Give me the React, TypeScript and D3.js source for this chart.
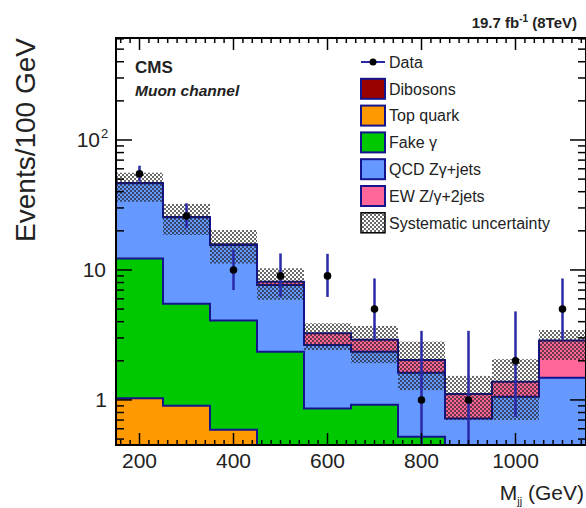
import React from 'react';
import * as d3 from 'd3';

// ---- data ----
const binEdges = [150, 250, 350, 450, 550, 650, 750, 850, 950, 1050, 1150];
const binCenters = [200, 300, 400, 500, 600, 700, 800, 900, 1000, 1100];
const dibosons = [0.03, 0.03, 0.02, 0.02, 0.02, 0.02, 0.02, 0.01, 0.01, 0.01];
const topQuark = [1.0, 0.87, 0.57, 0.3, 0.1, 0.1, 0.05, 0.04, 0.02, 0.02];
const fakeGamma = [11.2, 4.6, 3.5, 2.03, 0.74, 0.8, 0.45, 0.1, 0.07, 0.05];
const qcdZg = [34.2, 19.9, 11.5, 5.32, 1.79, 1.43, 1.1, 0.57, 0.96, 1.4];
const ewZg = [0.2, 0.2, 0.2, 0.43, 0.61, 0.55, 0.41, 0.39, 0.32, 1.38];
const sysUp = [56, 32.2, 20.3, 10.3, 3.89, 3.71, 2.81, 1.53, 2.06, 3.45];
const sysDown = [33.5, 18.6, 11.2, 5.9, 2.42, 1.92, 1.19, 0.7, 0.7, 2.03];
const dataVals = [55, 26, 10, 9, 9, 5, 1, 1, 2, 5];
const dataHi = [63.4, 32.6, 14.3, 13.4, 13.3, 8.6, 3.4, 3.4, 4.8, 8.6];
const dataLo = [47.8, 20.9, 7.0, 6.2, 6.2, 2.9, 0.01, 0.01, 0.74, 2.93];
const xTickLabels = [200, 400, 600, 800, 1000];
const yTickLabels = [1, 10, 100];

const seriesNames = ['Dibosons', 'Top quark', 'Fake γ', 'QCD Zγ+jets', 'EW Z/γ+2jets'];
const seriesColors = ['#990000', '#ff9900', '#00c800', '#6699ff', '#ff6699'];
const seriesVals = [dibosons, topQuark, fakeGamma, qcdZg, ewZg];

const W = 586, H = 508;
const L = 116, R = 586, T = 38, B = 445;
const NAVY = '#14148c';

export default function App() {
  const x = d3.scaleLinear().domain([150, 1150]).range([L, R]);
  const y = d3.scaleLog().domain([0.45, 609]).range([B, T]);
  const yc = (v: number) => (v <= 0.45 ? B + 10 : y(v));

  // cumulative stacks
  const cums: number[][] = [];
  seriesVals.forEach((s, i) => {
    cums.push(s.map((v, j) => v + (i > 0 ? cums[i - 1][j] : 0)));
  });

  const stepArea = (vals: number[]) => {
    let p = `M${x(binEdges[0])},${B + 10}`;
    vals.forEach((v, j) => {
      p += `L${x(binEdges[j])},${yc(v)}L${x(binEdges[j + 1])},${yc(v)}`;
    });
    p += `L${x(binEdges[binEdges.length - 1])},${B + 10}Z`;
    return p;
  };

  const minorX = d3.range(160, 1150, 20);
  const majorX = xTickLabels;
  const minorY: number[] = [];
  [0.1, 1, 10, 100].forEach((d) => {
    for (let k = 2; k <= 9; k++) {
      const v = d * k;
      if (v >= 0.45 && v <= 609) minorY.push(v);
    }
  });

  const legendRows = [
    { name: 'Data', type: 'data' },
    ...seriesNames.map((n, i) => ({ name: n, type: 'box', color: seriesColors[i] })),
    { name: 'Systematic uncertainty', type: 'syst' },
  ];
  const font = 'Liberation Sans, Arial, Helvetica, sans-serif';

  return (
    <svg width={W} height={H} style={{ position: 'absolute', left: 0, top: 0, background: '#fff' }} fontFamily={font}>
      <defs>
        <clipPath id="plotclip">
          <rect x={L} y={T} width={R - L} height={B - T} />
        </clipPath>
        <pattern id="syst" patternUnits="userSpaceOnUse" width={4} height={4}>
          <rect x={0} y={0} width={2} height={2} fill="#1a1a1a" fillOpacity={0.65} />
          <rect x={2} y={2} width={2} height={2} fill="#1a1a1a" fillOpacity={0.65} />
        </pattern>
      </defs>
      <rect x={0} y={0} width={W} height={H} fill="#fff" />
      <g clipPath="url(#plotclip)">
        {cums
          .map((c, i) => ({ c, i }))
          .reverse()
          .map(({ c, i }) => (
            <path key={i} d={stepArea(c)} fill={seriesColors[i]} stroke={NAVY} strokeWidth={2} />
          ))}
        {sysUp.map((u, j) => (
          <rect
            key={'s' + j}
            x={x(binEdges[j])}
            width={x(binEdges[j + 1]) - x(binEdges[j])}
            y={y(u)}
            height={yc(sysDown[j]) - y(u)}
            fill="url(#syst)"
          />
        ))}
        {dataVals.map((v, j) => (
          <g key={'d' + j}>
            <line
              x1={x(binCenters[j])}
              x2={x(binCenters[j])}
              y1={y(dataHi[j])}
              y2={yc(dataLo[j])}
              stroke="#2a2aa8"
              strokeWidth={2.5}
            />
            <circle cx={x(binCenters[j])} cy={y(v)} r={3.8} fill="#000" />
          </g>
        ))}
      </g>
      {/* frame */}
      <rect x={L} y={T} width={R - L} height={B - T} fill="none" stroke="#000" strokeWidth={2} />
      {/* x ticks */}
      {minorX.map((t) => {
        const big = majorX.includes(t);
        const len = big ? 12 : 5;
        return (
          <g key={'xt' + t}>
            <line x1={x(t)} x2={x(t)} y1={B} y2={B - len} stroke="#000" strokeWidth={1.5} />
            <line x1={x(t)} x2={x(t)} y1={T} y2={T + len} stroke="#000" strokeWidth={1.5} />
          </g>
        );
      })}
      {/* y ticks */}
      {yTickLabels.map((t) => (
        <g key={'yt' + t}>
          <line x1={L} x2={L + 16} y1={y(t)} y2={y(t)} stroke="#000" strokeWidth={1.5} />
          <line x1={R} x2={R - 16} y1={y(t)} y2={y(t)} stroke="#000" strokeWidth={1.5} />
        </g>
      ))}
      {minorY.map((t) => (
        <g key={'ym' + t}>
          <line x1={L} x2={L + 8} y1={y(t)} y2={y(t)} stroke="#000" strokeWidth={1.5} />
          <line x1={R} x2={R - 8} y1={y(t)} y2={y(t)} stroke="#000" strokeWidth={1.5} />
        </g>
      ))}
      {/* x tick labels */}
      {xTickLabels.map((t) => (
        <text key={'xl' + t} x={x(t)} y={468} textAnchor="middle" fontSize={21} fill="#222">
          {t}
        </text>
      ))}
      {/* y tick labels */}
      <text x={107} y={y(1) + 7.5} textAnchor="end" fontSize={21} fill="#222">1</text>
      <text x={106} y={y(10) + 7.5} textAnchor="end" fontSize={21} fill="#222">10</text>
      <text x={100} y={y(100) + 7.5} textAnchor="end" fontSize={21} fill="#222">10</text>
      <text x={101} y={y(100) - 2} textAnchor="start" fontSize={13} fill="#222">2</text>
      {/* axis titles */}
      <text transform={`translate(35,${T}) rotate(-90)`} textAnchor="end" fontSize={28} fill="#222">
        Events/100 GeV
      </text>
      <text x={584} y={500} textAnchor="end" fontSize={21} fill="#222">
        M<tspan fontSize={11} dy={5}>jj</tspan>
        <tspan dy={-5}> (GeV)</tspan>
      </text>
      {/* headers */}
      <text x={577} y={28} textAnchor="end" fontSize={15} fontWeight="bold" fill="#222">
        19.7 fb<tspan fontSize={10} dy={-6}>-1</tspan>
        <tspan dy={6}> (8TeV)</tspan>
      </text>
      <text x={135} y={73} fontSize={17} fontWeight="bold" fill="#222">CMS</text>
      <text x={135} y={96} fontSize={15.5} fontWeight="bold" fontStyle="italic" fill="#222">Muon channel</text>
      {/* legend */}
      {legendRows.map((r: any, i) => {
        const cy = 62 + i * 26.8;
        return (
          <g key={'lg' + i}>
            {r.type === 'data' && (
              <g>
                <line x1={361} x2={385} y1={cy} y2={cy} stroke="#2a2aa8" strokeWidth={2} />
                <circle cx={373} cy={cy} r={3.5} fill="#000" />
              </g>
            )}
            {r.type === 'box' && (
              <rect x={361} y={cy - 10} width={24} height={20} fill={r.color} stroke={NAVY} strokeWidth={2} />
            )}
            {r.type === 'syst' && (
              <g>
                <rect x={361} y={cy - 10} width={24} height={20} fill="#fff" />
                <rect x={361} y={cy - 10} width={24} height={20} fill="url(#syst)" stroke="#000" strokeWidth={1.5} />
              </g>
            )}
            <text x={389} y={cy + 5.8} fontSize={16} fill="#222">
              {r.name}
            </text>
          </g>
        );
      })}
    </svg>
  );
}
